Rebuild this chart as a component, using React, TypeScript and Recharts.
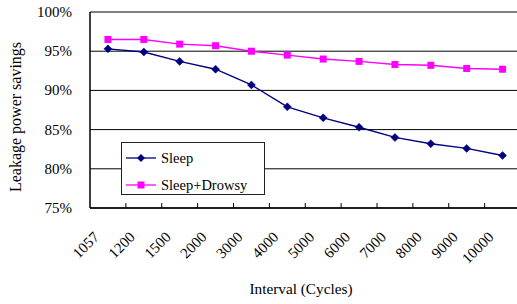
import React from 'react';
import { LineChart, Line, XAxis, YAxis, CartesianGrid, Legend } from 'recharts';

const categories = ['1057', '1200', '1500', '2000', '3000', '4000', '5000', '6000', '7000', '8000', '9000', '10000'];
const sleep = [95.3, 94.9, 93.7, 92.7, 90.7, 87.9, 86.5, 85.3, 84.0, 83.2, 82.6, 81.7];
const sleepDrowsy = [96.5, 96.5, 95.9, 95.7, 95.0, 94.5, 94.0, 93.7, 93.3, 93.2, 92.8, 92.7];
const yTicks = [75, 80, 85, 90, 95, 100];

const data = categories.map((c, i) => ({ interval: c, sleep: sleep[i], drowsy: sleepDrowsy[i] }));

const FONT = 'Liberation Serif, Times New Roman, serif';
const CHART_W = 530;
const CHART_H = 304;
const MARGIN = { top: 12, right: 9.5, left: 0, bottom: 0 };
const Y_W = 90;
const X_H = 96;
const PLOT_W = CHART_W - MARGIN.left - MARGIN.right - Y_W;
const SLOT = PLOT_W / categories.length;
const NAVY = '#000080';
const MAGENTA = '#FF00FF';

const Diamond = (props: any) => {
  const { cx, cy } = props;
  if (cx == null || cy == null) return null;
  const r = 4;
  return <polygon points={`${cx},${cy - r} ${cx + r},${cy} ${cx},${cy + r} ${cx - r},${cy}`} fill={NAVY} stroke={NAVY} strokeWidth={0.5} />;
};

const Square = (props: any) => {
  const { cx, cy } = props;
  if (cx == null || cy == null) return null;
  const s = 7;
  return <rect x={cx - s / 2} y={cy - s / 2} width={s} height={s} fill={MAGENTA} />;
};

const XTick = (props: any) => {
  const { x, y, payload } = props;
  return (
    <g>
      <line x1={x + SLOT / 2} x2={x + SLOT / 2} y1={y} y2={y - 5} stroke="#000" strokeWidth={1} />
      <text
        transform={`translate(${x - 8}, ${y + 30}) rotate(-45)`}
        textAnchor="end"
        style={{ fontFamily: FONT, fontSize: 15 }}
        fill="#000"
      >
        {payload.value}
      </text>
    </g>
  );
};

const YTick = (props: any) => {
  const { y, payload } = props;
  return (
    <text x={72} y={y} dy={5} textAnchor="end" style={{ fontFamily: FONT, fontSize: 15 }} fill="#000">
      {`${payload.value}%`}
    </text>
  );
};

const YTitle = () => (
  <text x={15} y={117} transform="rotate(-90 15 117)" textAnchor="middle" dominantBaseline="central" style={{ fontFamily: FONT, fontSize: 16 }} fill="#000">
    Leakage power savings
  </text>
);

const XTitle = () => (
  <text x={301} y={294} textAnchor="middle" style={{ fontFamily: FONT, fontSize: 15.3 }} fill="#000">
    Interval (Cycles)
  </text>
);

const LegendBox = (props: any) => {
  const { payload } = props;
  return (
    <div
      style={{
        position: 'relative',
        width: 144,
        height: 53,
        border: '1px solid #222',
        background: '#fff',
        boxSizing: 'border-box',
        fontFamily: FONT,
        fontSize: 14.5,
        color: '#000',
      }}
    >
      {(payload || []).map((entry: any, i: number) => {
        const isSleep = entry.dataKey === 'sleep';
        const color = isSleep ? NAVY : MAGENTA;
        return (
          <div
            key={entry.value}
            style={{ position: 'absolute', left: 0, top: 15 - 9 + i * 26.7, height: 18, display: 'flex', alignItems: 'center', whiteSpace: 'nowrap' }}
          >
            <svg width={38} height={18} style={{ display: 'block' }}>
              <line x1={4} x2={34} y1={9} y2={9} stroke={color} strokeWidth={1.3} />
              {isSleep ? (
                <polygon points="19,5 23,9 19,13 15,9" fill={NAVY} />
              ) : (
                <rect x={15.5} y={5.5} width={7} height={7} fill={MAGENTA} />
              )}
            </svg>
            <span style={{ marginLeft: 1, lineHeight: '18px', fontFamily: FONT }}>{entry.value}</span>
          </div>
        );
      })}
    </div>
  );
};

export default function App() {
  return (
    <div style={{ position: 'absolute', left: 0, top: 0, width: 517, height: 304, overflow: 'hidden', background: '#fff', fontFamily: FONT }}>
      <LineChart width={CHART_W} height={CHART_H} data={data} margin={MARGIN} style={{ fontFamily: FONT }}>
        <CartesianGrid vertical={false} stroke="#000" strokeWidth={1} />
        <XAxis
          dataKey="interval"
          scale="band"
          height={X_H}
          tickLine={false}
          tickSize={0}
          tickMargin={0}
          axisLine={{ stroke: '#000', strokeWidth: 1.5 }}
          tick={<XTick />}
          interval={0}
          label={<XTitle />}
        />
        <YAxis
          width={Y_W}
          domain={[75, 100]}
          ticks={yTicks}
          tickLine={false}
          axisLine={{ stroke: '#000', strokeWidth: 1.5 }}
          tick={<YTick />}
          label={<YTitle />}
          allowDataOverflow
        />
        <Legend
          layout="vertical"
          verticalAlign="middle"
          align="center"
          wrapperStyle={{ position: 'absolute', left: 121, top: 142, width: 144, height: 53 }}
          content={<LegendBox />}
        />
        <Line
          name="Sleep"
          dataKey="sleep"
          stroke={NAVY}
          strokeWidth={1.4}
          dot={<Diamond />}
          activeDot={false}
          isAnimationActive={false}
        />
        <Line
          name="Sleep+Drowsy"
          dataKey="drowsy"
          stroke={MAGENTA}
          strokeWidth={1.4}
          dot={<Square />}
          activeDot={false}
          isAnimationActive={false}
        />
      </LineChart>
    </div>
  );
}
